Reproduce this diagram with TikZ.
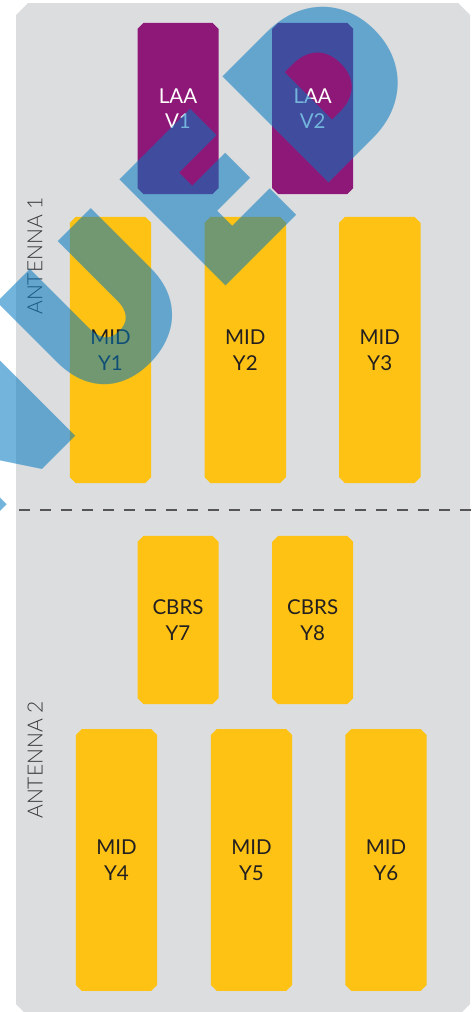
\documentclass[tikz,border=0pt]{standalone}
\usepackage{fontspec}
\setmainfont{Lato}
\newfontfamily\antfont{Lato Light}
\newfontfamily\wmfont{Poppins Black}[LetterSpace=9]
\usetikzlibrary{backgrounds}
\definecolor{panel}{RGB}{220,221,223}
\definecolor{laa}{RGB}{142,24,120}
\definecolor{band}{RGB}{253,194,19}
\definecolor{wm}{RGB}{0,119,191}
\definecolor{txt}{RGB}{35,31,32}
\definecolor{ant}{RGB}{55,55,58}
\definecolor{dashc}{RGB}{85,85,87}
\newcommand\chbox[7]{%
  \node[boxtext, text=#7, minimum width=#4pt, minimum height=#5pt] (#1) at (#2,#3) {#6};
  \begin{scope}[on background layer]
    \fill[#7box] ([xshift=6pt]#1.north west) -- ([xshift=-6pt]#1.north east)
      -- ([yshift=-6pt]#1.north east) -- ([yshift=6pt]#1.south east)
      -- ([xshift=-6pt]#1.south east) -- ([xshift=6pt]#1.south west)
      -- ([yshift=6pt]#1.south west) -- ([yshift=-6pt]#1.north west) -- cycle;
  \end{scope}}
\begin{document}
\begin{tikzpicture}[x=1pt,y=-1pt,
  boxtext/.style={align=center, inner sep=0pt, font=\fontsize{20.5}{25.5}\selectfont},
  whitebox/.style={fill=laa},
  txtbox/.style={fill=band},
  antlabel/.style={text=ant, inner sep=0pt, font=\antfont\fontsize{21}{24}\selectfont},
  sepline/.style={draw=dashc, line width=2.6pt, dash pattern=on 11pt off 10pt},
  wmtext/.style={text=wm, text opacity=0.55, inner sep=0pt,
    font=\wmfont\fontsize{212}{212}\selectfont}]
\useasboundingbox (0,0) rectangle (474,1012);
\begin{scope}[on background layer]
\fill[panel] (16,15) -- (28,3) -- (458,3) -- (470,15) -- (470,1004)
  -- (459,1015) -- (27,1015) -- (16,1004) -- cycle;
\end{scope}
% antenna 1
\chbox{v1}{178}{108.5}{80.6}{171}{LAA\\V1}{white}
\chbox{v2}{312.7}{108.5}{80.6}{171}{LAA\\V2}{white}
\chbox{y1}{110.5}{350}{81}{266}{MID\\Y1}{txt}
\chbox{y2}{245.3}{350}{81}{266}{MID\\Y2}{txt}
\chbox{y3}{379.8}{350}{81}{266}{MID\\Y3}{txt}
% antenna 2
\chbox{y7}{178}{620}{80.6}{168}{CBRS\\Y7}{txt}
\chbox{y8}{312.7}{620}{80.6}{168}{CBRS\\Y8}{txt}
\chbox{y4}{116.5}{860}{81}{261.5}{MID\\Y4}{txt}
\chbox{y5}{251.5}{860}{81}{261.5}{MID\\Y5}{txt}
\chbox{y6}{386}{860}{81}{261.5}{MID\\Y6}{txt}
\node[antlabel, rotate=90] (a1) at (35,256) {ANTENNA 1};
\node[antlabel, rotate=90] (a2) at (35,760) {ANTENNA 2};
\coordinate (dl) at (19,510);
\coordinate (dr) at (474,510);
\draw[sepline] (dl) -- (dr);
% watermark
\node[wmtext, anchor=base east, rotate=45] (wm) at (301.6,210.4) {DISCONTINUE\rlap{\hspace{28pt}D}};
\end{tikzpicture}
\end{document}
